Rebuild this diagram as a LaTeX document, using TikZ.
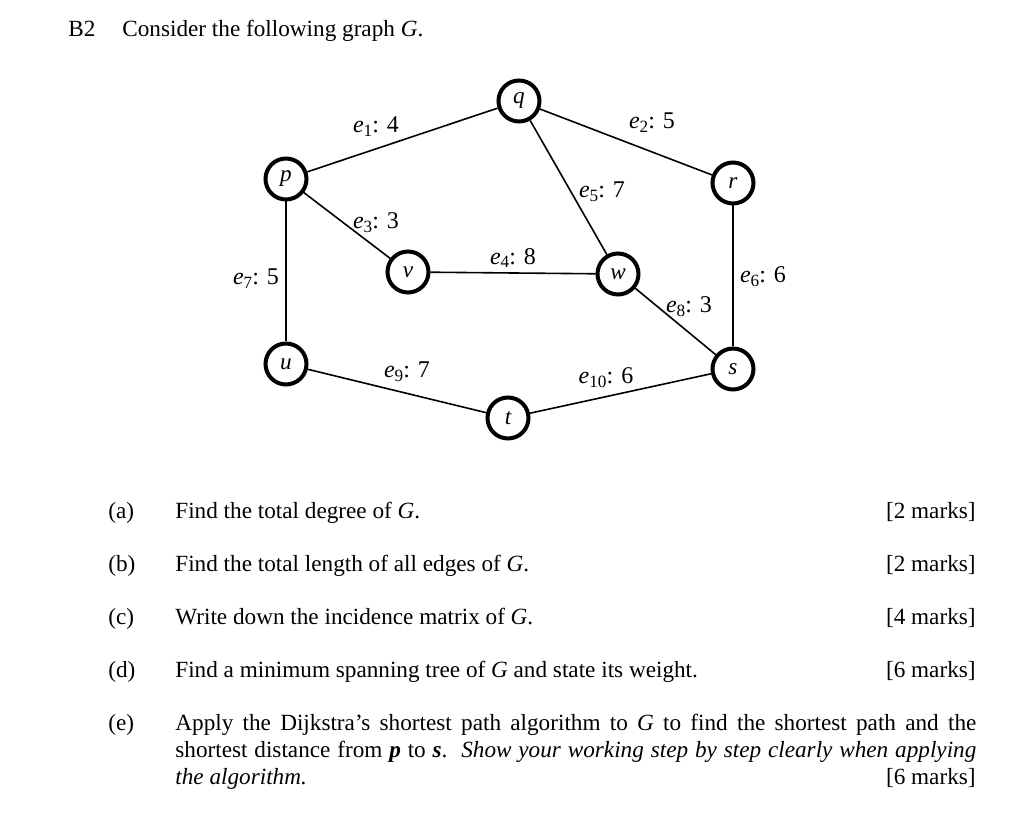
\documentclass[tikz,border=0pt]{standalone}
\usepackage{fontspec}
\setmainfont{Liberation Serif}
\usetikzlibrary{positioning}
\newcommand{\ewt}[2]{\textit{e}\raisebox{-0.35ex}{\fontsize{8.6}{10}\selectfont #1}: #2}

\begin{document}
\begin{tikzpicture}[
x=0.5pt, y=-0.5pt,
font=\fontsize{11.6}{13.5}\selectfont,
vert/.style={draw, circle, line width=2pt, minimum size=20.5pt, inner sep=0pt, fill=white, font=\fontsize{11.6}{13}\selectfont\itshape},
edge/.style={line width=0.8pt},
wlabel/.style={inner sep=0pt, font=\fontsize{12}{14}\selectfont},
txt/.style={anchor=base west, inner sep=0pt},
mrk/.style={anchor=base east, inner sep=0pt}
]
\useasboundingbox (0,0) rectangle (1024,822);

% heading
\node[txt] (num) at (68,37) {B2};
\node[txt] (intro) at (122,37) {Consider the following graph \textit{G}.};

% vertices
\node[vert] (q) at (519,101) {q};
\node[vert] (p) at (286,179) {p};
\node[vert] (r) at (733,183) {r};
\node[vert] (v) at (408,272) {v};
\node[vert] (w) at (618,274) {w};
\node[vert] (u) at (286,364) {u};
\node[vert] (s) at (733,369) {s};
\node[vert] (t) at (508,418) {t};

% edges
\draw[edge] (p) -- (q);
\draw[edge] (q) -- (r);
\draw[edge] (p) -- (v);
\draw[edge] (v) -- (w);
\draw[edge] (q) -- (w);
\draw[edge] (r) -- (s);
\draw[edge] (p) -- (u);
\draw[edge] (w) -- (s);
\draw[edge] (u) -- (t);
\draw[edge] (t) -- (s);

% weights
\node[wlabel] (e1) at (376,127) {\ewt{1}{4}};
\node[wlabel] (e2) at (652,123) {\ewt{2}{5}};
\node[wlabel] (e3) at (376,223) {\ewt{3}{3}};
\node[wlabel] (e4) at (513,258) {\ewt{4}{8}};
\node[wlabel] (e5) at (602,192) {\ewt{5}{7}};
\node[wlabel] (e6) at (763,277) {\ewt{6}{6}};
\node[wlabel] (e7) at (256,279) {\ewt{7}{5}};
\node[wlabel] (e8) at (689,307) {\ewt{8}{3}};
\node[wlabel] (e9) at (407,372) {\ewt{9}{7}};
\node[wlabel] (e10) at (606,378) {\ewt{10}{6}};

% questions
\node[txt] (qa) at (108,519) {(a)};
\node[txt] (qatext) at (175,519) {Find the total degree of \textit{G}.};
\node[mrk] (qamark) at (976,519) {[2 marks]};

\node[txt] (qb) at (108,572) {(b)};
\node[txt] (qbtext) at (175,572) {Find the total length of all edges of \textit{G}.};
\node[mrk] (qbmark) at (976,572) {[2 marks]};

\node[txt] (qc) at (108,625) {(c)};
\node[txt] (qctext) at (175,625) {Write down the incidence matrix of \textit{G}.};
\node[mrk] (qcmark) at (976,625) {[4 marks]};

\node[txt] (qd) at (108,678) {(d)};
\node[txt] (qdtext) at (175,678) {Find a minimum spanning tree of \textit{G} and state its weight.};
\node[mrk] (qdmark) at (976,678) {[6 marks]};

\node[txt] (qe) at (108,731) {(e)};
\node[txt] (qeline1) at (175,731) {\makebox[400.5pt][s]{Apply the Dijkstra's shortest path algorithm to \textit{G} to find the shortest path and the}};
\node[txt] (qeline2) at (175,758) {\makebox[400.5pt][s]{shortest distance from \textbf{\textit{p}} to \textbf{\textit{s}}.\ \ \textit{Show your working step by step clearly when applying}}};
\node[txt] (qeline3) at (175,785) {\textit{the algorithm.}};
\node[mrk] (qemark) at (976,785) {[6 marks]};
\end{tikzpicture}
\end{document}
